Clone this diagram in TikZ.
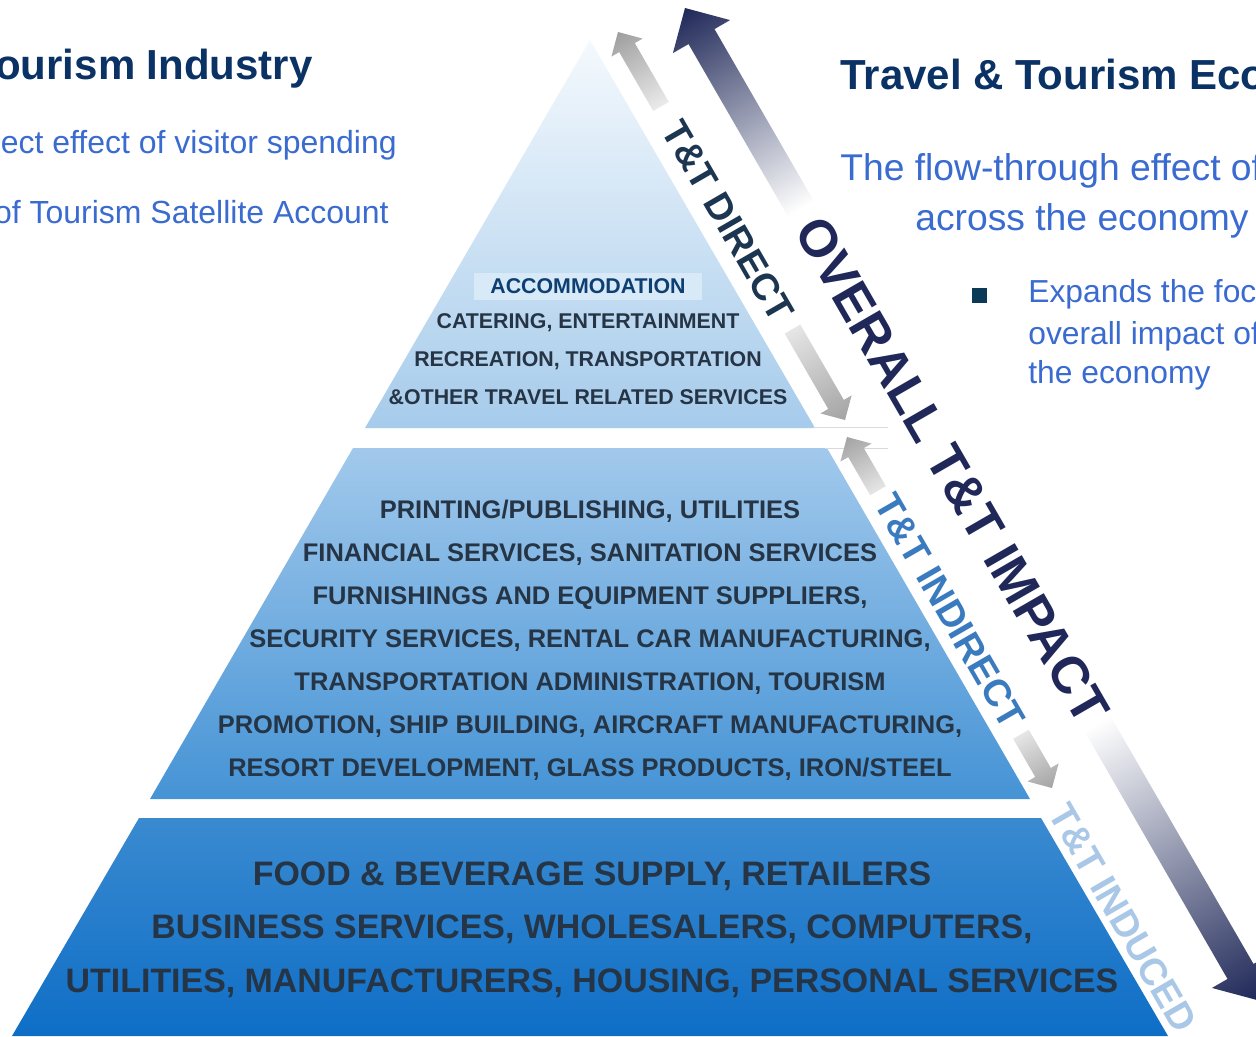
\documentclass[tikz,border=0pt]{standalone}
\usepackage{fontspec}
\setmainfont{Liberation Sans}
\usetikzlibrary{positioning}
\definecolor{titlenavy}{HTML}{0A3265}
\definecolor{bodyblue}{HTML}{3A6BD0}
\definecolor{tierslate}{HTML}{263545}
\definecolor{accblue}{HTML}{0E3F73}
\definecolor{accfill}{HTML}{D8E9F8}
\definecolor{impactnavy}{HTML}{1F2858}
\definecolor{directink}{HTML}{1C3550}
\definecolor{indirectink}{HTML}{3A7BC0}
\definecolor{inducedink}{HTML}{A9C7E6}
\definecolor{bulletteal}{HTML}{0B3A57}
\tikzset{
  tiertext/.style={inner sep=0, anchor=base, text=tierslate, font=\bfseries\fontsize{12.15}{14}\selectfont},
  midtext/.style={tiertext, font=\bfseries\fontsize{14.5}{17}\selectfont},
  basetext/.style={tiertext, font=\bfseries\fontsize{19.3}{23}\selectfont},
  acctext/.style={tiertext, text=accblue, fill=accfill, inner xsep=0.32cm, inner ysep=0.12cm},
  headline/.style={inner sep=0, text=titlenavy, font=\bfseries\fontsize{23.9}{28}\selectfont},
  bodytext/.style={inner sep=0, text=bodyblue, font=\fontsize{18.2}{22}\selectfont},
  flowtext/.style={bodytext, font=\fontsize{21.2}{25}\selectfont},
  pointtext/.style={bodytext, font=\fontsize{18.1}{21}\selectfont, anchor=base west},
  edgelabel/.style={inner sep=0, rotate=-60, font=\bfseries\fontsize{21.5}{25}\selectfont},
  bandline/.style={draw=black!15, line width=0.6pt}
}
% shaded arrow: tip, angle, head size, shaft half width, length, tip colour, tail colour
\newcommand{\flowarrow}[7]{%
  \begin{scope}[transform canvas={shift={(#1)}, rotate=#2}]
    \shade[left color=#6, right color=#7]
      (0,0) -- (#3,#3) -- (#3,#4) -- (#5,#4) -- (#5,-#4) -- (#3,-#4) -- (#3,-#3) -- cycle;
  \end{scope}}

\begin{document}
\begin{tikzpicture}[x=0.02cm, y=-0.02cm]
\path[use as bounding box, fill=white] (0,0) rectangle (1256,1036);

% pyramid tiers
\shade[top color={rgb,255:red,244;green,249;blue,253}, bottom color={rgb,255:red,166;green,203;blue,235}]
  (590,40) -- (815,428) -- (365,428) -- cycle;
\shade[top color={rgb,255:red,162;green,201;blue,236}, bottom color={rgb,255:red,69;green,147;blue,213}]
  (353,448) -- (827,448) -- (1030,799) -- (150,799) -- cycle;
\shade[top color={rgb,255:red,58;green,138;blue,208}, bottom color={rgb,255:red,14;green,110;blue,198}]
  (139,818) -- (1041,818) -- (1168,1036) -- (12,1036) -- cycle;
\draw[bandline] (813,427.5) -- (888,427.5);
\draw[bandline] (825,448.5) -- (888,448.5);

% tier texts
\node[acctext] (acc) at (588,293.5) {ACCOMMODATION};
\foreach \line [count=\i] in {{CATERING, ENTERTAINMENT}, {RECREATION, TRANSPORTATION},
    {\&OTHER TRAVEL RELATED SERVICES}}
  \node[tiertext] (top-\i) at (588, 290.5+38*\i) {\line};
\foreach \line [count=\i] in {{PRINTING/PUBLISHING, UTILITIES}, {FINANCIAL SERVICES, SANITATION SERVICES},
    {FURNISHINGS AND EQUIPMENT SUPPLIERS,}, {SECURITY SERVICES, RENTAL CAR MANUFACTURING,},
    {TRANSPORTATION ADMINISTRATION, TOURISM}, {PROMOTION, SHIP BUILDING, AIRCRAFT MANUFACTURING,},
    {RESORT DEVELOPMENT, GLASS PRODUCTS, IRON/STEEL}}
  \node[midtext] (mid-\i) at (590, 474.9+43.1*\i) {\line};
\foreach \line [count=\i] in {{FOOD \& BEVERAGE SUPPLY, RETAILERS}, {BUSINESS SERVICES, WHOLESALERS, COMPUTERS,},
    {UTILITIES, MANUFACTURERS, HOUSING, PERSONAL SERVICES}}
  \node[basetext] (low-\i) at (592, 831.5+53.5*\i) {\line};

% arrows along the edge
\coordinate (impact-top) at (685,8);
\coordinate (impact-bot) at (1257,1000);
\coordinate (direct-top) at (618,32);
\coordinate (direct-bot) at (845,420);
\coordinate (indirect-top) at (847,437);
\coordinate (indirect-bot) at (1052,788);
\flowarrow{impact-top}{-60}{33}{15}{232}{impactnavy}{white}
\flowarrow{impact-bot}{120}{33}{15}{320}{impactnavy}{white}
\flowarrow{direct-top}{-60}{18}{9}{86}{black!38}{black!8}
\flowarrow{direct-bot}{120}{18}{9}{105}{black!36}{black!10}
\flowarrow{indirect-top}{-60}{18}{9}{62}{black!36}{black!10}
\flowarrow{indirect-bot}{120}{18}{9}{62}{black!36}{black!10}

% edge labels
\node[edgelabel, text=directink] (direct) at (728,221) {T\&T DIRECT};
\node[edgelabel, text=indirectink] (indirect) at (950,611) {T\&T INDIRECT};
\node[edgelabel, text=inducedink] (induced) at (1123,918) {T\&T INDUCED};
\node[edgelabel, text=impactnavy, font=\bfseries\fontsize{29.6}{34}\selectfont] (overall) at (952,470) {OVERALL T\&T IMPACT};

% side texts
\node[headline, anchor=base east] (ind-title) at (313,79) {ourism Industry};
\node[bodytext, anchor=base east] (ind-line1) at (397,153) {ect effect of visitor spending};
\node[bodytext, anchor=base east] (ind-line2) at (389,223) {of Tourism Satellite Account};
\node[headline, anchor=base west] (eco-title) at (840,89) {Travel \& Tourism Eco};
\node[flowtext, anchor=base west] (eco-line1) at (840,180) {The flow-through effect of};
\node[flowtext, anchor=base west] (eco-line2) at (915,230) {across the economy};
\node[fill=bulletteal, minimum size=0.3cm, inner sep=0] (eco-bullet) at (979.5,295.5) {};
\node[pointtext] (eco-point1) at (1028,302) {Expands the foc};
\node[pointtext] (eco-point2) at (1028,344) {overall impact of};
\node[pointtext] (eco-point3) at (1028,383) {the economy};
\end{tikzpicture}
\end{document}
